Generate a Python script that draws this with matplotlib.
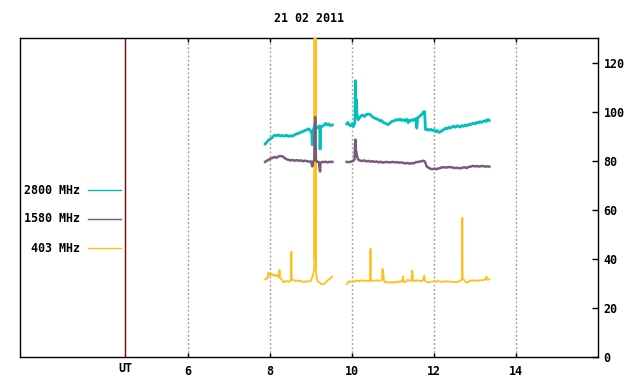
import numpy as np
import matplotlib
matplotlib.use("Agg")
import matplotlib.pyplot as plt
from matplotlib.lines import Line2D
from matplotlib.transforms import blended_transform_factory

title = "21 02 2011"
xticks = [6, 8, 10, 12, 14]
yticks = [0, 20, 40, 60, 80, 100, 120]
ut_pos = 4.46
series_names = ["2800 MHz", "1580 MHz", "403 MHz"]
series_colors = ["#00bfbf", "#7a5a7a", "#ffbf1f"]

nan = float("nan")

t_2800 = [7.88, 7.92, 7.96, 8.00, 8.04, 8.08, 8.12, 8.16, 8.20, 8.25, 8.30, 8.35, 8.40, 8.45,
          8.50, 8.55, 8.60, 8.65, 8.70, 8.75, 8.80, 8.85, 8.90, 8.94, 8.98, 9.02, 9.03, 9.04,
          9.07, 9.10, 9.11, 9.14, 9.18, 9.21, 9.22, 9.23, 9.27, 9.31, 9.35, 9.39, 9.43, 9.47,
          9.52, 9.70,
          9.87, 9.90, 9.93, 9.97, 10.00, 10.04, 10.07, 10.08, 10.09, 10.11, 10.12, 10.15, 10.18,
          10.22, 10.26, 10.30, 10.35, 10.40, 10.44, 10.48, 10.52, 10.56, 10.60, 10.64, 10.68,
          10.72, 10.76, 10.80, 10.84, 10.88, 10.93, 10.97, 11.01, 11.05, 11.09, 11.13, 11.17,
          11.21, 11.25, 11.29, 11.33, 11.37, 11.40, 11.44, 11.48, 11.52, 11.56, 11.58, 11.60,
          11.64, 11.68, 11.71, 11.74, 11.77, 11.79, 11.80, 11.84, 11.88, 11.92, 11.96, 12.00,
          12.04, 12.08, 12.12, 12.16, 12.20, 12.24, 12.28, 12.32, 12.36, 12.40, 12.44, 12.48,
          12.52, 12.56, 12.60, 12.64, 12.68, 12.72, 12.76, 12.80, 12.84, 12.88, 12.92, 12.96,
          13.00, 13.04, 13.08, 13.12, 13.16, 13.20, 13.24, 13.28, 13.31, 13.35]
v_2800 = [86.8, 87.5, 88.3, 88.9, 89.2, 90.0, 90.4, 90.2, 90.5, 90.1, 90.3, 90.0, 90.4, 89.9,
          90.2, 90.0, 90.6, 90.9, 91.2, 91.6, 91.9, 92.3, 92.6, 93.0, 92.4, 91.0, 86.5, 92.0,
          93.2, 95.5, 93.0, 93.4, 93.8, 94.2, 84.8, 93.6, 94.0, 94.4, 95.2, 94.6, 95.0, 94.3,
          94.6, nan,
          95.0, 95.6, 94.6, 94.2, 95.0, 94.0, 96.0, 112.6, 103.0, 104.9, 99.0, 96.7, 97.5,
          98.3, 98.6, 98.0, 98.8, 99.0, 98.8, 98.2, 97.6, 97.3, 97.0, 96.8, 96.2,
          96.4, 95.6, 95.3, 95.0, 94.7, 95.4, 96.0, 96.2, 96.4, 96.8, 96.5, 97.0,
          96.4, 96.7, 96.2, 96.9, 95.5, 96.5, 96.2, 96.8, 96.4, 97.2, 93.3, 97.4,
          98.0, 98.6, 99.0, 99.8, 100.0, 93.0, 92.6, 92.8, 92.4, 92.8, 92.3, 92.6,
          91.8, 92.3, 91.5, 91.8, 92.3, 92.7, 93.2, 93.0, 93.6, 93.3, 93.8, 94.0,
          93.6, 94.2, 94.0, 93.7, 94.3, 94.0, 94.6, 94.2, 94.8, 94.6, 95.0, 95.3,
          95.0, 95.6, 95.4, 95.9, 95.6, 96.0, 96.3, 96.0, 96.8, 96.4]

t_1580 = [7.88, 7.92, 7.96, 8.00, 8.04, 8.08, 8.12, 8.16, 8.20, 8.25, 8.29, 8.33, 8.37, 8.41,
          8.45, 8.50, 8.55, 8.60, 8.65, 8.70, 8.75, 8.80, 8.85, 8.90, 8.95, 9.00, 9.03, 9.05,
          9.08, 9.10, 9.12, 9.15, 9.19, 9.22, 9.23, 9.27, 9.31, 9.35, 9.40, 9.45, 9.52, 9.70,
          9.87, 9.92, 9.97, 10.02, 10.06, 10.08, 10.09, 10.11, 10.13, 10.16, 10.20, 10.25,
          10.30, 10.35, 10.40, 10.45, 10.50, 10.55, 10.60, 10.65, 10.70, 10.75, 10.80, 10.85,
          10.90, 10.95, 11.00, 11.05, 11.10, 11.15, 11.20, 11.25, 11.30, 11.35, 11.40, 11.45,
          11.50, 11.55, 11.60, 11.65, 11.70, 11.74, 11.78, 11.82, 11.86, 11.90, 11.94, 11.98,
          12.02, 12.06, 12.10, 12.15, 12.20, 12.25, 12.30, 12.35, 12.40, 12.45, 12.50, 12.55,
          12.60, 12.65, 12.70, 12.75, 12.80, 12.85, 12.90, 12.95, 13.00, 13.05, 13.10, 13.15,
          13.20, 13.25, 13.30, 13.35]
v_1580 = [79.5, 80.0, 80.3, 80.8, 81.0, 81.3, 81.5, 81.2, 81.7, 81.9, 81.8, 81.5, 80.9, 80.5,
          80.4, 80.1, 80.3, 80.0, 80.2, 80.0, 80.1, 79.8, 80.0, 79.8, 79.6, 79.7, 77.7, 79.5,
          80.5, 97.8, 80.0, 79.6, 79.4, 75.6, 79.2, 79.5, 79.4, 79.6, 79.3, 79.5, 79.5, nan,
          79.5, 79.4, 79.6, 79.8, 80.5, 88.6, 85.0, 83.0, 81.2, 80.3, 80.0, 79.9,
          80.1, 79.7, 79.9, 79.6, 79.8, 79.5, 79.7, 79.3, 79.6, 79.2, 79.4, 79.5,
          79.3, 79.4, 79.5, 79.3, 79.4, 79.2, 79.3, 79.1, 78.9, 79.1, 78.8, 79.0,
          78.9, 79.3, 79.5, 79.6, 79.8, 80.0, 79.6, 77.7, 77.2, 76.8, 76.6, 76.6,
          76.8, 76.5, 76.8, 77.0, 77.3, 77.3, 77.2, 77.4, 77.4, 77.2, 77.0, 77.1,
          77.0, 76.9, 77.2, 77.3, 77.0, 77.5, 77.6, 77.9, 77.7, 77.8, 77.6, 77.8,
          77.8, 77.6, 77.7, 77.6]

t_403 = [7.88, 7.91, 7.94, 7.96, 7.98, 8.00, 8.02, 8.04, 8.07, 8.10, 8.13, 8.16, 8.19, 8.22,
         8.23, 8.24, 8.27, 8.29, 8.31, 8.33, 8.37, 8.41, 8.45, 8.49, 8.51, 8.52, 8.53, 8.57,
         8.61, 8.65, 8.69, 8.73, 8.77, 8.81, 8.85, 8.89, 8.93, 8.97, 9.00, 9.03, 9.05, 9.08,
         9.085, 9.09, 9.095, 9.10, 9.105, 9.11, 9.12, 9.14, 9.16, 9.18, 9.21, 9.24, 9.28, 9.32,
         9.36, 9.39, 9.42, 9.46, 9.49, 9.52, 9.70,
         9.87, 9.89, 9.92, 9.95, 9.99, 10.03, 10.06, 10.09, 10.12, 10.16, 10.20, 10.24, 10.28,
         10.32, 10.36, 10.40, 10.44, 10.45, 10.46, 10.50, 10.54, 10.58, 10.62, 10.66, 10.70,
         10.73, 10.74, 10.76, 10.78, 10.80, 10.84, 10.88, 10.92, 10.96, 11.00, 11.04, 11.08,
         11.12, 11.16, 11.20, 11.23, 11.24, 11.26, 11.30, 11.34, 11.37, 11.41, 11.45, 11.47,
         11.49, 11.53, 11.57, 11.61, 11.65, 11.69, 11.73, 11.76, 11.78, 11.82, 11.86, 11.90,
         11.94, 11.98, 12.02, 12.06, 12.10, 12.15, 12.20, 12.25, 12.30, 12.35, 12.39, 12.44,
         12.50, 12.55, 12.60, 12.64, 12.68, 12.69, 12.70, 12.72, 12.76, 12.80, 12.84, 12.88,
         12.92, 12.96, 13.00, 13.04, 13.08, 13.12, 13.16, 13.20, 13.24, 13.28, 13.30, 13.35]
v_403 = [31.7, 32.2, 32.0, 34.4, 33.2, 33.8, 33.5, 33.9, 33.2, 33.6, 33.0, 33.5, 32.8, 32.5,
         35.5, 32.3, 31.8, 31.4, 30.8, 30.5, 30.8, 31.0, 30.6, 31.0, 31.2, 42.9, 31.4, 31.4,
         31.0, 31.2, 30.9, 31.1, 30.7, 30.7, 30.6, 30.9, 30.7, 30.9, 31.2, 32.6, 33.5, 36.0,
         160.0, 40.0, 160.0, 150.0, 38.0, 160.0, 35.5, 31.8, 31.0, 30.7, 30.2, 29.8, 29.6, 29.8,
         30.5, 31.0, 31.4, 32.0, 32.2, 32.8, nan,
         29.7, 30.2, 30.9, 30.5, 30.9, 30.6, 31.0, 30.8, 31.2, 30.9, 31.0, 31.3, 31.0,
         31.2, 30.9, 31.1, 31.0, 44.1, 31.0, 31.0, 31.2, 31.1, 31.3, 31.0, 31.2,
         31.4, 35.9, 34.7, 31.0, 30.5, 30.6, 30.4, 30.3, 30.5, 30.3, 30.6, 30.4,
         30.8, 30.6, 30.9, 30.7, 32.8, 30.7, 30.5, 31.2, 31.4, 31.0, 31.2, 35.2,
         31.2, 30.9, 31.3, 31.0, 31.2, 30.8, 31.3, 33.1, 31.0, 30.6, 30.5, 30.5,
         30.7, 30.8, 30.9, 30.7, 31.0, 30.7, 30.6, 30.9, 30.7, 30.8, 30.7, 30.6,
         30.6, 30.5, 30.8, 31.2, 31.5, 56.7, 31.9, 31.6, 30.8, 30.3, 30.6, 31.2,
         31.0, 31.3, 31.1, 31.2, 31.0, 31.4, 31.2, 31.4, 31.5, 32.8, 31.4, 31.7]

FONT = dict(family="DejaVu Sans Mono", fontweight="bold", fontsize=8.4)

W, H = 640, 384
fig = plt.figure(figsize=(W / 100, H / 100), dpi=100)
L, R, T, B = 20, 598, 38, 357
ax = fig.add_axes([L / W, 1 - B / H, (R - L) / W, (B - T) / H])

ax.plot(t_403, v_403, color=series_colors[2], lw=1.3, zorder=3)
ax.plot(t_2800, v_2800, color=series_colors[0], lw=2.0, zorder=4)
ax.plot(t_1580, v_1580, color=series_colors[1], lw=1.8, zorder=5)

ax.set_xlim(1.9, 16.0)
ax.set_ylim(0, 130)

ax.axvline(ut_pos, color="#800000", lw=1.0, zorder=2)
for x in xticks:
    ax.axvline(x, color="#a0a0a0", lw=1.0, linestyle=(0, (1.4, 1.6)), zorder=1)

ax.set_xticks(xticks)
ax.set_xticklabels([str(x) for x in xticks], **FONT)
ax.tick_params(axis="x", direction="in", length=3, width=1, top=True, bottom=True, pad=6)

ax.yaxis.tick_right()
ax.set_yticks(yticks)
ax.set_yticklabels([str(y) for y in yticks], **FONT)
ax.tick_params(axis="y", direction="in", length=4, width=1, right=True, left=False, pad=4)

for s in ax.spines.values():
    s.set_linewidth(1.0)
    s.set_color("black")

tr = blended_transform_factory(ax.transData, fig.transFigure)
ax.text(ut_pos, 1 - 368 / H, "UT", transform=tr, ha="center", va="center", **FONT)

fig.text((L + R) / 2 / W, 1 - 19 / H, title, ha="center", va="center", **FONT)

leg_y = [190, 219, 248]
for name, col, y in zip(series_names, series_colors, leg_y):
    fig.text(80 / W, 1 - y / H, name, ha="right", va="center", **FONT)
    fig.add_artist(Line2D([88 / W, 121 / W], [1 - y / H, 1 - y / H], color=col, lw=1.0))

fig.savefig("out.png", dpi=100)
